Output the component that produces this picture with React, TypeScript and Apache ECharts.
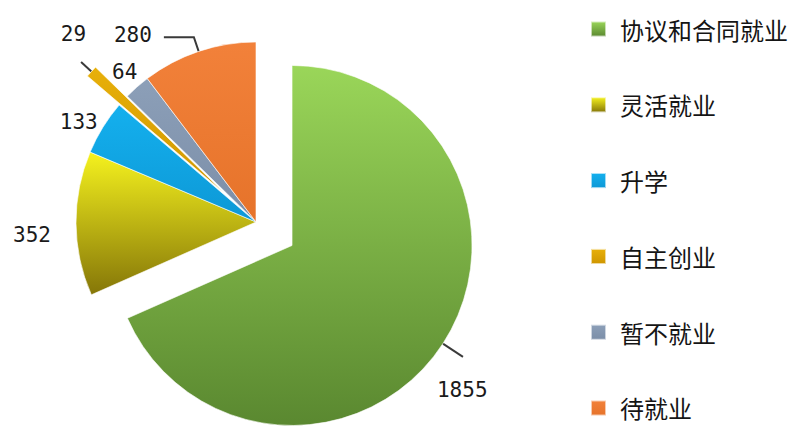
import React, { useEffect, useRef } from "react";
import * as echarts from "echarts";

const categories = ["协议和合同就业", "灵活就业", "升学", "自主创业", "暂不就业", "待就业"];
const values = [1855, 352, 133, 29, 64, 280];
const exploded = [true, false, false, true, false, false];

const topColors = ["#9ad659", "#f5f21e", "#14b0ee", "#e8b00a", "#8c9fb8", "#f2813a"];
const bottomColors = ["#5a8830", "#857608", "#0d98d6", "#cf9600", "#7b8ea8", "#e6732a"];

// label placement tweaks (style only)
const labelTweaks = [
  { show: true, len: 24, len2: 0, dist: 5, dx: -31, dy: 33 },
  { show: false, len: 20, len2: 0, dist: 5, dx: 0, dy: 11 },
  { show: false, len: 6, len2: 0, dist: 0, dx: 0, dy: -2 },
  { show: true, len: 14, len2: 0, dist: 5, dx: 10, dy: -28 },
  { show: false, len: 10, len2: 0, dist: 5, dx: 12, dy: -7 },
  { show: true, len: 15, len2: 30, dist: 8, dx: -4, dy: -2 },
];

export default function App() {
  const ref = useRef<HTMLDivElement>(null);
  useEffect(() => {
    const chart = echarts.init(ref.current!, null, { renderer: "svg" });
    const data = categories.map((name, i) => {
      const t = labelTweaks[i];
      return {
        name,
        value: values[i],
        selected: exploded[i],
        itemStyle: {
          color: new echarts.graphic.LinearGradient(0, 0, 0, 1, [
            { offset: 0, color: topColors[i] },
            { offset: 1, color: bottomColors[i] },
          ]),
        },
        label: { distanceToLabelLine: t.dist },
        labelLine: { show: t.show, length: t.len, length2: t.len2 },
      };
    });
    chart.setOption({
      animation: false,
      backgroundColor: "#ffffff",
      legend: {
        orient: "vertical",
        left: 590,
        top: 17,
        height: 420,
        padding: 0,
        itemWidth: 15,
        itemHeight: 15,
        itemGap: 51.8,
        icon: "rect",
        selectedMode: false,
        textStyle: {
          fontSize: 24,
          fontFamily: "Noto Sans CJK SC",
          color: "#151515",
          padding: [0, 0, 0, 9],
        },
        data: categories,
      },
      series: [
        {
          type: "pie",
          center: [256, 222],
          radius: 180,
          startAngle: 90,
          clockwise: true,
          selectedMode: "multiple",
          selectedOffset: 43,
          avoidLabelOverlap: false,
          emphasis: { disabled: true },
          itemStyle: { borderColor: "rgba(255,255,255,0.6)", borderWidth: 1 },
          label: {
            show: true,
            position: "outside",
            formatter: "{c}",
            fontFamily: "DejaVu Sans Mono",
            fontSize: 21,
            color: "#1a1a1a",
          },
          labelLine: {
            lineStyle: { color: "#3a3a3a", width: 2 },
          },
          labelLayout: (params: any) => {
            const t = labelTweaks[params.dataIndex];
            return { dx: t.dx, dy: t.dy };
          },
          data,
        },
      ],
    });
    return () => chart.dispose();
  }, []);
  return (
    <div
      ref={ref}
      style={{ position: "fixed", left: 0, top: 0, width: 806, height: 428 }}
    />
  );
}
